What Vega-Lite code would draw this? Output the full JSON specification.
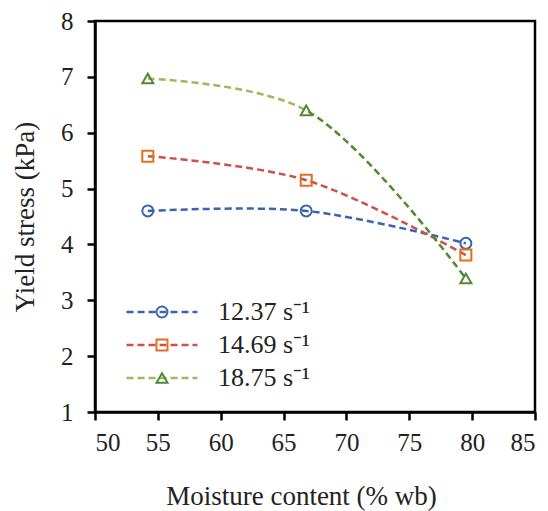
{
  "$schema": "https://vega.github.io/schema/vega-lite/v6.json",
  "width": 440,
  "height": 391,
  "autosize": {"type": "none"},
  "padding": {"left": 95, "top": 21, "right": 13, "bottom": 99},
  "background": "white",
  "config": {
    "font": "Liberation Serif",
    "view": {"stroke": "black", "strokeWidth": 2.5},
    "axis": {
      "domainColor": "black", "domainWidth": 2.5,
      "tickColor": "black", "tickWidth": 2.5, "tickSize": 8,
      "grid": false,
      "labelFont": "Liberation Serif", "labelFontSize": 25, "labelColor": "#222",
      "titleFont": "Liberation Serif", "titleFontSize": 27, "titleFontWeight": "normal", "titleColor": "#222"
    }
  },
  "data": {
    "values": [
      {"moisture": 54.2, "stress": 4.60, "rate": "12.37 s⁻¹"},
      {"moisture": 66.8, "stress": 4.60, "rate": "12.37 s⁻¹"},
      {"moisture": 79.5, "stress": 4.02, "rate": "12.37 s⁻¹"},
      {"moisture": 54.2, "stress": 5.58, "rate": "14.69 s⁻¹"},
      {"moisture": 66.8, "stress": 5.15, "rate": "14.69 s⁻¹"},
      {"moisture": 79.5, "stress": 3.81, "rate": "14.69 s⁻¹"},
      {"moisture": 54.2, "stress": 6.97, "rate": "18.75 s⁻¹"},
      {"moisture": 66.8, "stress": 6.40, "rate": "18.75 s⁻¹"},
      {"moisture": 79.5, "stress": 3.39, "rate": "18.75 s⁻¹"}
    ]
  },
  "encoding": {
    "x": {
      "field": "moisture", "type": "quantitative",
      "scale": {"domain": [50, 85], "nice": false, "zero": false},
      "axis": {"values": [50, 55, 60, 65, 70, 75, 80, 85], "title": "Moisture content (% wb)", "labelPadding": 10, "titlePadding": 28, "titleX": 206}
    },
    "y": {
      "field": "stress", "type": "quantitative",
      "scale": {"domain": [1, 8], "nice": false, "zero": false},
      "axis": {"values": [1, 2, 3, 4, 5, 6, 7, 8], "title": "Yield stress (kPa)", "labelPadding": 14, "titlePadding": 21}
    }
  },
  "layer": [
    {
      "transform": [{"filter": {"not": {"field": "rate", "equal": "18.75 s⁻¹"}}}],
      "mark": {"type": "line", "interpolate": "catmull-rom", "strokeDash": [7, 4], "strokeWidth": 2.5},
      "encoding": {
        "color": {
          "field": "rate", "type": "nominal",
          "scale": {"domain": ["12.37 s⁻¹", "14.69 s⁻¹", "18.75 s⁻¹"], "range": ["#3c64ae", "#cd514b", "#9bbb59"]},
          "legend": {
            "title": null, "orient": "none", "legendX": 54, "legendY": 278,
            "symbolType": "M-6.45,0H6.45", "symbolSize": 121, "symbolStrokeWidth": 2.5, "symbolDash": [7, 4],
            "labelFont": "Liberation Serif", "labelFontSize": 26, "labelColor": "#222", "labelOffset": 43,
            "padding": 0, "rowPadding": 7, "symbolOffset": 0
          }
        }
      }
    },
    {
      "transform": [{"filter": {"field": "rate", "equal": "18.75 s⁻¹"}}],
      "mark": {
        "type": "line", "interpolate": "catmull-rom", "strokeDash": [7, 4], "strokeWidth": 2.5,
        "stroke": {
          "gradient": "linear", "x1": 0, "x2": 1, "y1": 0, "y2": 0,
          "stops": [
            {"offset": 0, "color": "#9bbb59"},
            {"offset": 0.49, "color": "#9bbb59"},
            {"offset": 0.53, "color": "#4f8a2f"},
            {"offset": 1, "color": "#4f8a2f"}
          ]
        }
      },
      "encoding": {}
    },
    {
      "mark": {"type": "point", "filled": false, "size": 121, "strokeWidth": 2, "opacity": 1},
      "encoding": {
        "shape": {
          "field": "rate", "type": "nominal",
          "scale": {"range": ["circle", "square", "triangle-up"]},
          "legend": {
            "title": null, "orient": "none", "legendX": 54, "legendY": 278,
            "symbolSize": 121, "symbolStrokeWidth": 2,
            "labelFont": "Liberation Serif", "labelFontSize": 26, "labelColor": "transparent", "labelOffset": 43,
            "padding": 0, "rowPadding": 7, "symbolOffset": 0
          }
        },
        "stroke": {
          "field": "rate", "type": "nominal",
          "scale": {"range": ["#3c64ae", "#e2701f", "#4f8a2f"]},
          "legend": {
            "title": null, "orient": "none", "legendX": 54, "legendY": 278,
            "symbolSize": 121, "symbolStrokeWidth": 2,
            "labelFont": "Liberation Serif", "labelFontSize": 26, "labelColor": "transparent", "labelOffset": 43,
            "padding": 0, "rowPadding": 7, "symbolOffset": 0
          }
        }
      }
    }
  ]
}
